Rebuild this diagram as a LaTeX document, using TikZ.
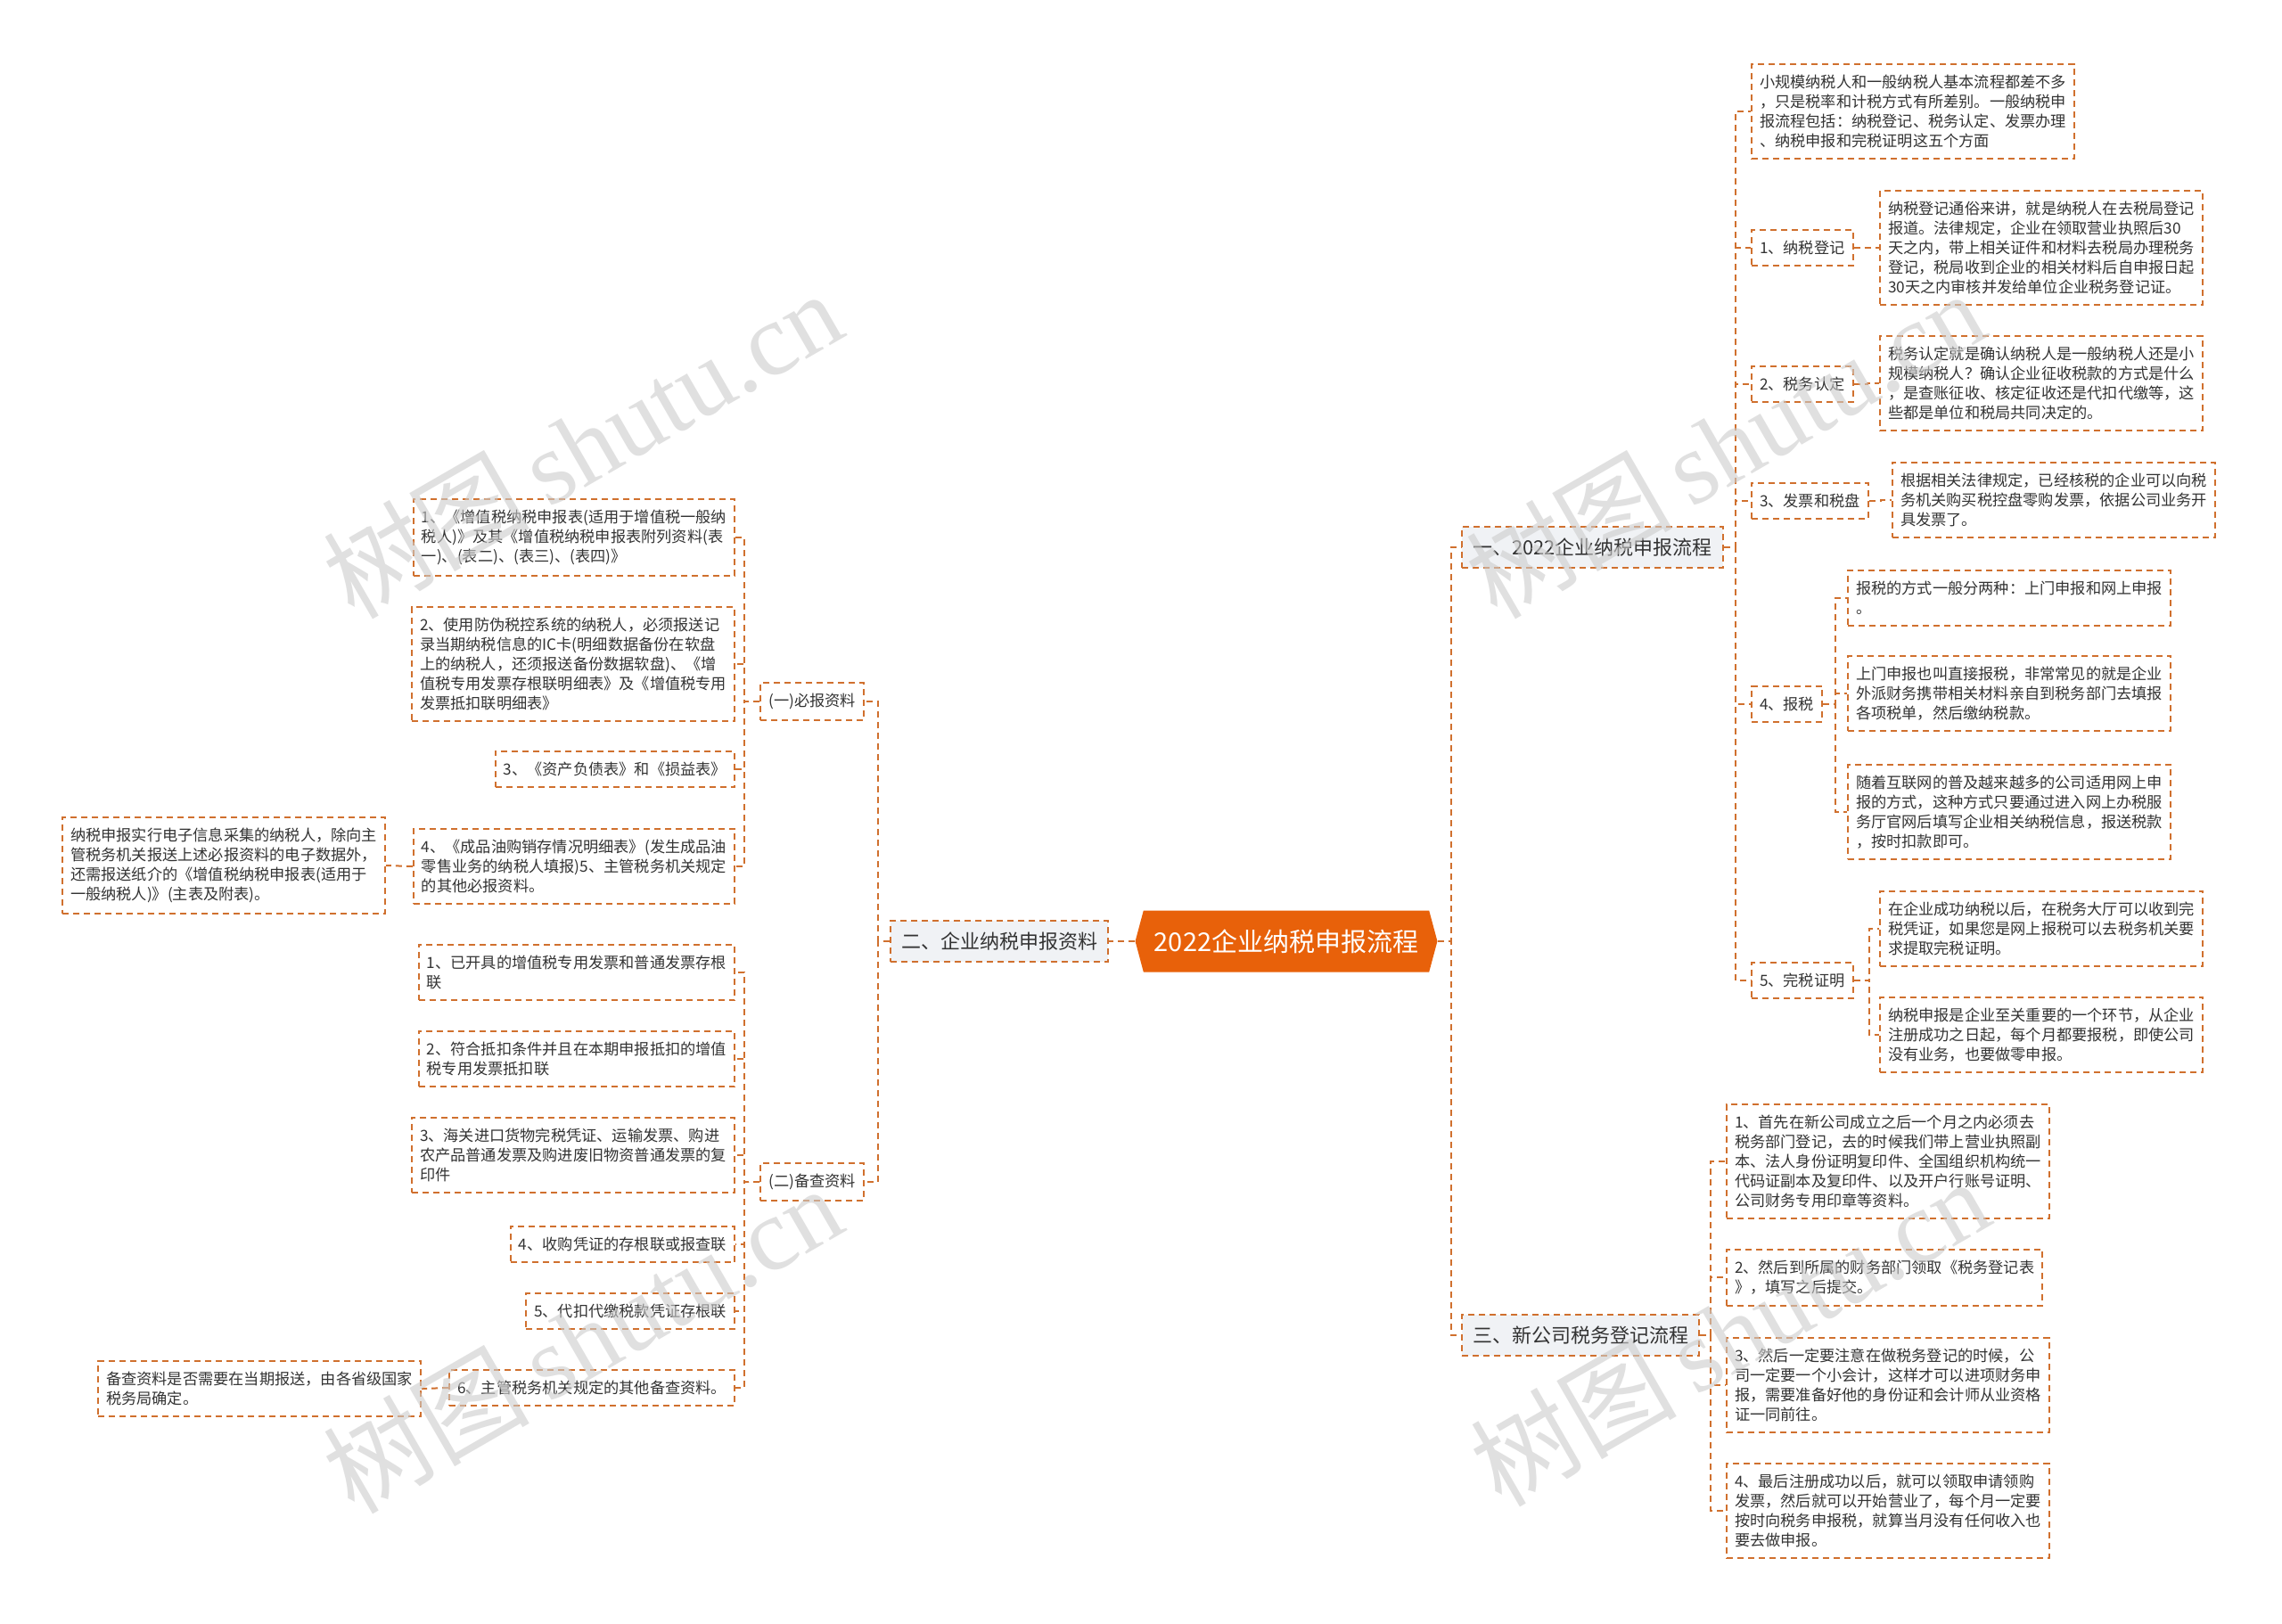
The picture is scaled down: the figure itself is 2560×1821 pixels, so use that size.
\documentclass[tikz,border=0pt]{standalone}
\usepackage{fontspec}
\setmainfont{Noto Sans CJK SC}
\newfontfamily\wmserif{Liberation Serif}
\usetikzlibrary{shapes.symbols,calc}
\definecolor{lineor}{HTML}{D0702E}
\definecolor{hubor}{HTML}{E8610A}
\definecolor{subgray}{HTML}{F0F2F5}
\definecolor{txt}{HTML}{333333}
\tikzset{
    dashline/.style = {dash pattern=on 3.5pt off 2.5pt},
    hub/.style = {shape=signal, signal to=east and west, signal pointer angle=150,
        fill=hubor, text=white, font=\fontsize{14.5}{17}\selectfont,
        minimum height=34.5pt, minimum width=166pt, inner xsep=6pt},
    topic/.style = {draw=lineor, dashline, line width=1pt, fill=subgray, text=txt,
        font=\fontsize{11}{13}\selectfont, minimum height=23pt, inner xsep=6pt},
    item/.style = {draw=lineor, dashline, line width=1pt, fill=white, text=txt,
        font=\fontsize{8.6}{10.9}\selectfont, align=left,
        inner xsep=4.5pt, inner ysep=6.2pt},
    link/.style = {draw=lineor, dashline, line width=1pt},
    wmark/.style = {text=gray!40, opacity=0.6, rotate=30,
        font=\fontsize{58}{60}\selectfont}
}

\begin{document}
\begin{tikzpicture}[x=0.5pt,y=-0.5pt]
    \fill[white] (0,0) rectangle (2560,1821);
    \useasboundingbox (0,0) rectangle (2560,1821);
    % centre and main branches
    \node [hub] (hub) at (1443,1056) {2022企业纳税申报流程};
    \node [topic,anchor=west] (flow) at (1639,614) {一、2022企业纳税申报流程};
    \node [topic,anchor=east] (data) at (1244,1056) {二、企业纳税申报资料};
    \node [topic,anchor=west] (reg) at (1639,1498) {三、新公司税务登记流程};
    \draw [link] (hub.east) -- ++(15,0) |- (flow.west);
    \draw [link] (hub.east) -- ++(15,0) |- (reg.west);
    \draw [link] (hub.west) -- (data.east);

    % branch one
    \node [item,anchor=west] (flow0) at (1964,125) {小规模纳税人和一般纳税人基本流程都差不多\\，只是税率和计税方式有所差别。一般纳税申\\报流程包括：纳税登记、税务认定、发票办理\\、纳税申报和完税证明这五个方面};
    \node [item,anchor=west] (step1) at (1964,278) {1、纳税登记};
    \node [item,anchor=west] (step2) at (1964,431) {2、税务认定};
    \node [item,anchor=west] (step3) at (1964,562) {3、发票和税盘};
    \node [item,anchor=west] (step4) at (1964,790) {4、报税};
    \node [item,anchor=west] (step5) at (1964,1100) {5、完税证明};
    \foreach \n in {flow0,step1,step2,step3,step4,step5}
        \draw [link] (flow.east) -- ++(13,0) |- (\n.west);

    \node [item,anchor=west] (step1n) at (2108,278) {纳税登记通俗来讲，就是纳税人在去税局登记\\报道。法律规定，企业在领取营业执照后30\\天之内，带上相关证件和材料去税局办理税务\\登记，税局收到企业的相关材料后自申报日起\\30天之内审核并发给单位企业税务登记证。};
    \node [item,anchor=west] (step2n) at (2108,430) {税务认定就是确认纳税人是一般纳税人还是小\\规模纳税人？确认企业征收税款的方式是什么\\，是查账征收、核定征收还是代扣代缴等，这\\些都是单位和税局共同决定的。};
    \node [item,anchor=west] (step3n) at (2122,561) {根据相关法律规定，已经核税的企业可以向税\\务机关购买税控盘零购发票，依据公司业务开\\具发票了。};
    \draw [link] (step1.east) -- ++(15,0) |- (step1n.west);
    \draw [link] (step2.east) -- ++(15,0) |- (step2n.west);
    \draw [link] (step3.east) -- ++(13,0) |- (step3n.west);

    \node [item,anchor=west] (step4a) at (2072,671) {报税的方式一般分两种：上门申报和网上申报\\。};
    \node [item,anchor=west] (step4b) at (2072,778) {上门申报也叫直接报税，非常常见的就是企业\\外派财务携带相关材料亲自到税务部门去填报\\各项税单，然后缴纳税款。};
    \node [item,anchor=west] (step4c) at (2072,911) {随着互联网的普及越来越多的公司适用网上申\\报的方式，这种方式只要通过进入网上办税服\\务厅官网后填写企业相关纳税信息，报送税款\\，按时扣款即可。};
    \foreach \n in {step4a,step4b,step4c}
        \draw [link] (step4.east) -- ++(14,0) |- (\n.west);

    \node [item,anchor=west] (step5a) at (2108,1042) {在企业成功纳税以后，在税务大厅可以收到完\\税凭证，如果您是网上报税可以去税务机关要\\求提取完税证明。};
    \node [item,anchor=west] (step5b) at (2108,1161) {纳税申报是企业至关重要的一个环节，从企业\\注册成功之日起，每个月都要报税，即使公司\\没有业务，也要做零申报。};
    \foreach \n in {step5a,step5b}
        \draw [link] (step5.east) -- ++(17,0) |- (\n.west);

    % branch three
    \node [item,anchor=west] (reg1) at (1936,1303) {1、首先在新公司成立之后一个月之内必须去\\税务部门登记，去的时候我们带上营业执照副\\本、法人身份证明复印件、全国组织机构统一\\代码证副本及复印件、以及开户行账号证明、\\公司财务专用印章等资料。};
    \node [item,anchor=west] (reg2) at (1936,1433) {2、然后到所属的财务部门领取《税务登记表\\》，填写之后提交。};
    \node [item,anchor=west] (reg3) at (1936,1554) {3、然后一定要注意在做税务登记的时候，公\\司一定要一个小会计，这样才可以进项财务申\\报，需要准备好他的身份证和会计师从业资格\\证一同前往。};
    \node [item,anchor=west] (reg4) at (1936,1695) {4、最后注册成功以后，就可以领取申请领购\\发票，然后就可以开始营业了，每个月一定要\\按时向税务申报税，就算当月没有任何收入也\\要去做申报。};
    \foreach \n in {reg1,reg2,reg3,reg4}
        \draw [link] (reg.east) -- ++(12,0) |- (\n.west);

    % branch two
    \node [item,anchor=east] (must) at (970,787) {(一)必报资料};
    \node [item,anchor=east] (keep) at (970,1326) {(二)备查资料};
    \draw [link] (data.west) -- ++(-13,0) |- (must.east);
    \draw [link] (data.west) -- ++(-13,0) |- (keep.east);

    \node [item,anchor=east] (must1) at (825,603) {1、《增值税纳税申报表(适用于增值税一般纳\\税人)》及其《增值税纳税申报表附列资料(表\\一)、(表二)、(表三)、(表四)》};
    \node [item,anchor=east] (must2) at (825,745) {2、使用防伪税控系统的纳税人，必须报送记\\录当期纳税信息的IC卡(明细数据备份在软盘\\上的纳税人，还须报送备份数据软盘)、《增\\值税专用发票存根联明细表》及《增值税专用\\发票抵扣联明细表》};
    \node [item,anchor=east] (must3) at (825,863) {3、《资产负债表》和《损益表》};
    \node [item,anchor=east] (must4) at (825,972) {4、《成品油购销存情况明细表》(发生成品油\\零售业务的纳税人填报)5、主管税务机关规定\\的其他必报资料。};
    \node [item,anchor=east] (must4n) at (433,971) {纳税申报实行电子信息采集的纳税人，除向主\\管税务机关报送上述必报资料的电子数据外，\\还需报送纸介的《增值税纳税申报表(适用于\\一般纳税人)》(主表及附表)。};
    \foreach \n in {must1,must2,must3,must4}
        \draw [link] (must.west) -- ++(-17,0) |- (\n.east);
    \draw [link] (must4.west) -- (must4n.east);

    \node [item,anchor=east] (keep1) at (825,1091) {1、已开具的增值税专用发票和普通发票存根\\联};
    \node [item,anchor=east] (keep2) at (825,1188) {2、符合抵扣条件并且在本期申报抵扣的增值\\税专用发票抵扣联};
    \node [item,anchor=east] (keep3) at (825,1296) {3、海关进口货物完税凭证、运输发票、购进\\农产品普通发票及购进废旧物资普通发票的复\\印件};
    \node [item,anchor=east] (keep4) at (825,1396) {4、收购凭证的存根联或报查联};
    \node [item,anchor=east] (keep5) at (825,1471) {5、代扣代缴税款凭证存根联};
    \node [item,anchor=east] (keep6) at (825,1557) {6、主管税务机关规定的其他备查资料。};
    \node [item,anchor=east] (keep6n) at (473,1558) {备查资料是否需要在当期报送，由各省级国家\\税务局确定。};
    \foreach \n in {keep1,keep2,keep3,keep4,keep5,keep6}
        \draw [link] (keep.west) -- ++(-17,0) |- (\n.east);
    \draw [link] (keep6.west) -- (keep6n.east);

    % watermarks
    \node [wmark] (wm1) at (653,498) {树图\,{\wmserif shutu.cn}};
    \node [wmark] (wm2) at (1935,498) {树图\,{\wmserif shutu.cn}};
    \node [wmark] (wm3) at (653,1502) {树图\,{\wmserif shutu.cn}};
    \node [wmark] (wm4) at (1940,1494) {树图\,{\wmserif shutu.cn}};
\end{tikzpicture}
\end{document}
